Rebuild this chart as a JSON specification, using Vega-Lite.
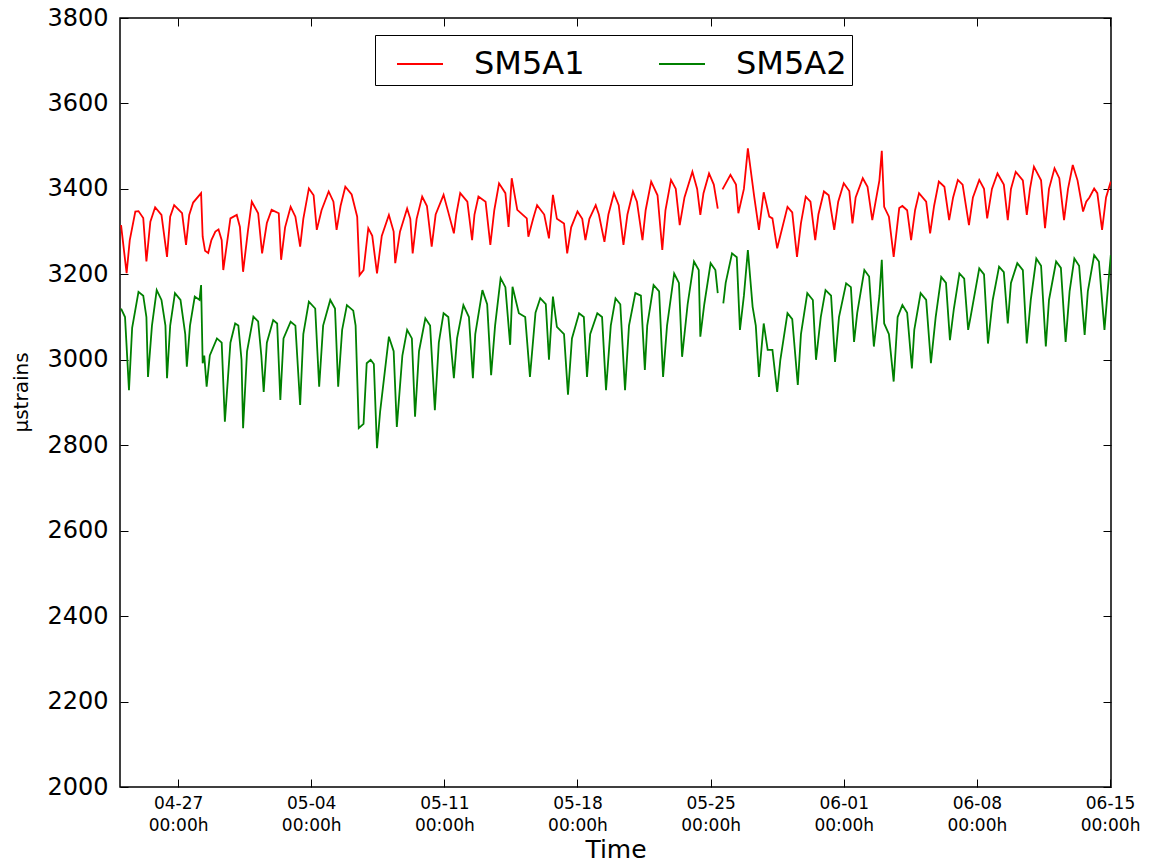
{
"$schema": "https://vega.github.io/schema/vega-lite/v6.json",
"width": 991, "height": 769,
"autosize": {"type": "none"},
"padding": {"left": 120, "top": 18, "right": 38, "bottom": 76},
"background": "white",
"config": {"view": {"stroke": "black", "strokeWidth": 1.5}, "font": "DejaVu Sans"},
"data": {"values": [
{"t":"2015-04-24T00:00","s":"SM5A1","v":3315},{"t":"2015-04-24T07:00","s":"SM5A1","v":3203},{"t":"2015-04-24T11:00","s":"SM5A1","v":3280},{"t":"2015-04-24T18:00","s":"SM5A1","v":3347},{"t":"2015-04-24T22:00","s":"SM5A1","v":3348},
{"t":"2015-04-25T04:00","s":"SM5A1","v":3332},{"t":"2015-04-25T08:00","s":"SM5A1","v":3230},{"t":"2015-04-25T13:00","s":"SM5A1","v":3323},{"t":"2015-04-25T19:00","s":"SM5A1","v":3357},
{"t":"2015-04-26T03:00","s":"SM5A1","v":3339},{"t":"2015-04-26T10:00","s":"SM5A1","v":3241},{"t":"2015-04-26T14:00","s":"SM5A1","v":3335},{"t":"2015-04-26T19:00","s":"SM5A1","v":3362},
{"t":"2015-04-27T05:00","s":"SM5A1","v":3343},{"t":"2015-04-27T10:00","s":"SM5A1","v":3269},{"t":"2015-04-27T14:00","s":"SM5A1","v":3339},{"t":"2015-04-27T19:00","s":"SM5A1","v":3368},
{"t":"2015-04-28T05:00","s":"SM5A1","v":3390},{"t":"2015-04-28T07:00","s":"SM5A1","v":3288},{"t":"2015-04-28T10:00","s":"SM5A1","v":3255},{"t":"2015-04-28T14:00","s":"SM5A1","v":3250},{"t":"2015-04-28T18:00","s":"SM5A1","v":3280},{"t":"2015-04-28T23:00","s":"SM5A1","v":3300},
{"t":"2015-04-29T03:00","s":"SM5A1","v":3305},{"t":"2015-04-29T07:00","s":"SM5A1","v":3280},{"t":"2015-04-29T09:00","s":"SM5A1","v":3210},{"t":"2015-04-29T18:00","s":"SM5A1","v":3331},
{"t":"2015-04-30T02:00","s":"SM5A1","v":3339},{"t":"2015-04-30T06:00","s":"SM5A1","v":3311},{"t":"2015-04-30T10:00","s":"SM5A1","v":3206},{"t":"2015-04-30T16:00","s":"SM5A1","v":3300},{"t":"2015-04-30T21:00","s":"SM5A1","v":3370},
{"t":"2015-05-01T05:00","s":"SM5A1","v":3343},{"t":"2015-05-01T10:00","s":"SM5A1","v":3249},{"t":"2015-05-01T16:00","s":"SM5A1","v":3320},{"t":"2015-05-01T22:00","s":"SM5A1","v":3351},
{"t":"2015-05-02T07:00","s":"SM5A1","v":3343},{"t":"2015-05-02T10:00","s":"SM5A1","v":3234},{"t":"2015-05-02T15:00","s":"SM5A1","v":3310},{"t":"2015-05-02T22:00","s":"SM5A1","v":3358},
{"t":"2015-05-03T04:00","s":"SM5A1","v":3335},{"t":"2015-05-03T10:00","s":"SM5A1","v":3265},{"t":"2015-05-03T14:00","s":"SM5A1","v":3330},{"t":"2015-05-03T21:00","s":"SM5A1","v":3401},
{"t":"2015-05-04T03:00","s":"SM5A1","v":3385},{"t":"2015-05-04T07:00","s":"SM5A1","v":3304},{"t":"2015-05-04T13:00","s":"SM5A1","v":3350},{"t":"2015-05-04T22:00","s":"SM5A1","v":3394},
{"t":"2015-05-05T04:00","s":"SM5A1","v":3370},{"t":"2015-05-05T08:00","s":"SM5A1","v":3304},{"t":"2015-05-05T13:00","s":"SM5A1","v":3360},{"t":"2015-05-05T19:00","s":"SM5A1","v":3405},
{"t":"2015-05-06T03:00","s":"SM5A1","v":3387},{"t":"2015-05-06T10:00","s":"SM5A1","v":3335},{"t":"2015-05-06T13:00","s":"SM5A1","v":3198},{"t":"2015-05-06T18:00","s":"SM5A1","v":3210},
{"t":"2015-05-07T00:00","s":"SM5A1","v":3308},{"t":"2015-05-07T05:00","s":"SM5A1","v":3290},{"t":"2015-05-07T11:00","s":"SM5A1","v":3202},{"t":"2015-05-07T17:00","s":"SM5A1","v":3290},
{"t":"2015-05-08T02:00","s":"SM5A1","v":3339},{"t":"2015-05-08T08:00","s":"SM5A1","v":3300},{"t":"2015-05-08T10:00","s":"SM5A1","v":3226},{"t":"2015-05-08T16:00","s":"SM5A1","v":3300},
{"t":"2015-05-09T01:00","s":"SM5A1","v":3354},{"t":"2015-05-09T05:00","s":"SM5A1","v":3330},{"t":"2015-05-09T08:00","s":"SM5A1","v":3249},{"t":"2015-05-09T13:00","s":"SM5A1","v":3330},{"t":"2015-05-09T20:00","s":"SM5A1","v":3382},
{"t":"2015-05-10T02:00","s":"SM5A1","v":3360},{"t":"2015-05-10T08:00","s":"SM5A1","v":3265},{"t":"2015-05-10T13:00","s":"SM5A1","v":3340},{"t":"2015-05-10T23:00","s":"SM5A1","v":3386},
{"t":"2015-05-11T05:00","s":"SM5A1","v":3345},{"t":"2015-05-11T12:00","s":"SM5A1","v":3296},{"t":"2015-05-11T15:00","s":"SM5A1","v":3340},{"t":"2015-05-11T20:00","s":"SM5A1","v":3390},
{"t":"2015-05-12T05:00","s":"SM5A1","v":3370},{"t":"2015-05-12T11:00","s":"SM5A1","v":3280},{"t":"2015-05-12T14:00","s":"SM5A1","v":3340},{"t":"2015-05-12T19:00","s":"SM5A1","v":3382},
{"t":"2015-05-13T04:00","s":"SM5A1","v":3370},{"t":"2015-05-13T10:00","s":"SM5A1","v":3269},{"t":"2015-05-13T15:00","s":"SM5A1","v":3350},{"t":"2015-05-13T21:00","s":"SM5A1","v":3413},
{"t":"2015-05-14T05:00","s":"SM5A1","v":3390},{"t":"2015-05-14T09:00","s":"SM5A1","v":3311},{"t":"2015-05-14T13:00","s":"SM5A1","v":3425},{"t":"2015-05-14T20:00","s":"SM5A1","v":3351},
{"t":"2015-05-15T08:00","s":"SM5A1","v":3331},{"t":"2015-05-15T10:00","s":"SM5A1","v":3288},{"t":"2015-05-15T16:00","s":"SM5A1","v":3330},{"t":"2015-05-15T21:00","s":"SM5A1","v":3362},
{"t":"2015-05-16T06:00","s":"SM5A1","v":3340},{"t":"2015-05-16T12:00","s":"SM5A1","v":3284},{"t":"2015-05-16T17:00","s":"SM5A1","v":3386},{"t":"2015-05-16T22:00","s":"SM5A1","v":3330},
{"t":"2015-05-17T07:00","s":"SM5A1","v":3319},{"t":"2015-05-17T11:00","s":"SM5A1","v":3249},{"t":"2015-05-17T16:00","s":"SM5A1","v":3310},
{"t":"2015-05-18T00:00","s":"SM5A1","v":3347},{"t":"2015-05-18T06:00","s":"SM5A1","v":3330},{"t":"2015-05-18T10:00","s":"SM5A1","v":3280},{"t":"2015-05-18T15:00","s":"SM5A1","v":3330},{"t":"2015-05-18T23:00","s":"SM5A1","v":3362},
{"t":"2015-05-19T03:00","s":"SM5A1","v":3340},{"t":"2015-05-19T10:00","s":"SM5A1","v":3276},{"t":"2015-05-19T15:00","s":"SM5A1","v":3340},{"t":"2015-05-19T22:00","s":"SM5A1","v":3390},
{"t":"2015-05-20T04:00","s":"SM5A1","v":3362},{"t":"2015-05-20T10:00","s":"SM5A1","v":3269},{"t":"2015-05-20T15:00","s":"SM5A1","v":3340},{"t":"2015-05-20T22:00","s":"SM5A1","v":3394},
{"t":"2015-05-21T03:00","s":"SM5A1","v":3370},{"t":"2015-05-21T10:00","s":"SM5A1","v":3280},{"t":"2015-05-21T14:00","s":"SM5A1","v":3350},{"t":"2015-05-21T21:00","s":"SM5A1","v":3417},
{"t":"2015-05-22T05:00","s":"SM5A1","v":3385},{"t":"2015-05-22T11:00","s":"SM5A1","v":3257},{"t":"2015-05-22T15:00","s":"SM5A1","v":3350},{"t":"2015-05-22T22:00","s":"SM5A1","v":3421},
{"t":"2015-05-23T04:00","s":"SM5A1","v":3400},{"t":"2015-05-23T09:00","s":"SM5A1","v":3315},{"t":"2015-05-23T15:00","s":"SM5A1","v":3380},
{"t":"2015-05-24T01:00","s":"SM5A1","v":3440},{"t":"2015-05-24T07:00","s":"SM5A1","v":3400},{"t":"2015-05-24T11:00","s":"SM5A1","v":3339},{"t":"2015-05-24T15:00","s":"SM5A1","v":3390},{"t":"2015-05-24T22:00","s":"SM5A1","v":3436},
{"t":"2015-05-25T04:00","s":"SM5A1","v":3410},{"t":"2015-05-25T09:00","s":"SM5A1","v":3354},{"t":"2015-05-25T11:00","s":"SM5A1","v":null},{"t":"2015-05-25T15:00","s":"SM5A1","v":3399},
{"t":"2015-05-26T01:00","s":"SM5A1","v":3433},{"t":"2015-05-26T08:00","s":"SM5A1","v":3410},{"t":"2015-05-26T11:00","s":"SM5A1","v":3343},{"t":"2015-05-26T18:00","s":"SM5A1","v":3400},{"t":"2015-05-26T23:00","s":"SM5A1","v":3495},
{"t":"2015-05-27T07:00","s":"SM5A1","v":3382},{"t":"2015-05-27T13:00","s":"SM5A1","v":3304},{"t":"2015-05-27T19:00","s":"SM5A1","v":3392},
{"t":"2015-05-28T02:00","s":"SM5A1","v":3335},{"t":"2015-05-28T06:00","s":"SM5A1","v":3331},{"t":"2015-05-28T12:00","s":"SM5A1","v":3261},
{"t":"2015-05-29T01:00","s":"SM5A1","v":3358},{"t":"2015-05-29T07:00","s":"SM5A1","v":3345},{"t":"2015-05-29T13:00","s":"SM5A1","v":3241},{"t":"2015-05-29T18:00","s":"SM5A1","v":3320},
{"t":"2015-05-30T00:00","s":"SM5A1","v":3382},{"t":"2015-05-30T06:00","s":"SM5A1","v":3370},{"t":"2015-05-30T12:00","s":"SM5A1","v":3280},{"t":"2015-05-30T16:00","s":"SM5A1","v":3340},{"t":"2015-05-30T23:00","s":"SM5A1","v":3394},
{"t":"2015-05-31T05:00","s":"SM5A1","v":3385},{"t":"2015-05-31T12:00","s":"SM5A1","v":3304},{"t":"2015-05-31T17:00","s":"SM5A1","v":3370},
{"t":"2015-06-01T00:00","s":"SM5A1","v":3413},{"t":"2015-06-01T07:00","s":"SM5A1","v":3395},{"t":"2015-06-01T11:00","s":"SM5A1","v":3319},{"t":"2015-06-01T15:00","s":"SM5A1","v":3380},
{"t":"2015-06-02T00:00","s":"SM5A1","v":3425},{"t":"2015-06-02T06:00","s":"SM5A1","v":3405},{"t":"2015-06-02T12:00","s":"SM5A1","v":3327},{"t":"2015-06-02T21:00","s":"SM5A1","v":3420},
{"t":"2015-06-03T00:00","s":"SM5A1","v":3489},{"t":"2015-06-03T03:00","s":"SM5A1","v":3358},{"t":"2015-06-03T09:00","s":"SM5A1","v":3335},{"t":"2015-06-03T15:00","s":"SM5A1","v":3241},{"t":"2015-06-03T22:00","s":"SM5A1","v":3355},
{"t":"2015-06-04T02:00","s":"SM5A1","v":3360},{"t":"2015-06-04T08:00","s":"SM5A1","v":3350},{"t":"2015-06-04T13:00","s":"SM5A1","v":3280},{"t":"2015-06-04T18:00","s":"SM5A1","v":3350},{"t":"2015-06-04T23:00","s":"SM5A1","v":3390},
{"t":"2015-06-05T08:00","s":"SM5A1","v":3370},{"t":"2015-06-05T13:00","s":"SM5A1","v":3296},{"t":"2015-06-05T18:00","s":"SM5A1","v":3360},
{"t":"2015-06-06T00:00","s":"SM5A1","v":3417},{"t":"2015-06-06T07:00","s":"SM5A1","v":3405},{"t":"2015-06-06T13:00","s":"SM5A1","v":3327},{"t":"2015-06-06T18:00","s":"SM5A1","v":3380},
{"t":"2015-06-07T00:00","s":"SM5A1","v":3421},{"t":"2015-06-07T06:00","s":"SM5A1","v":3410},{"t":"2015-06-07T14:00","s":"SM5A1","v":3315},{"t":"2015-06-07T19:00","s":"SM5A1","v":3380},
{"t":"2015-06-08T03:00","s":"SM5A1","v":3421},{"t":"2015-06-08T09:00","s":"SM5A1","v":3400},{"t":"2015-06-08T13:00","s":"SM5A1","v":3331},{"t":"2015-06-08T19:00","s":"SM5A1","v":3400},
{"t":"2015-06-09T02:00","s":"SM5A1","v":3436},{"t":"2015-06-09T10:00","s":"SM5A1","v":3410},{"t":"2015-06-09T15:00","s":"SM5A1","v":3327},{"t":"2015-06-09T19:00","s":"SM5A1","v":3400},
{"t":"2015-06-10T01:00","s":"SM5A1","v":3440},{"t":"2015-06-10T10:00","s":"SM5A1","v":3420},{"t":"2015-06-10T15:00","s":"SM5A1","v":3339},{"t":"2015-06-10T19:00","s":"SM5A1","v":3400},
{"t":"2015-06-11T00:00","s":"SM5A1","v":3452},{"t":"2015-06-11T09:00","s":"SM5A1","v":3420},{"t":"2015-06-11T14:00","s":"SM5A1","v":3308},{"t":"2015-06-11T19:00","s":"SM5A1","v":3400},
{"t":"2015-06-12T02:00","s":"SM5A1","v":3448},{"t":"2015-06-12T08:00","s":"SM5A1","v":3425},{"t":"2015-06-12T14:00","s":"SM5A1","v":3327},{"t":"2015-06-12T19:00","s":"SM5A1","v":3400},
{"t":"2015-06-13T01:00","s":"SM5A1","v":3456},{"t":"2015-06-13T07:00","s":"SM5A1","v":3420},{"t":"2015-06-13T14:00","s":"SM5A1","v":3347},{"t":"2015-06-13T18:00","s":"SM5A1","v":3370},{"t":"2015-06-13T22:00","s":"SM5A1","v":3380},
{"t":"2015-06-14T04:00","s":"SM5A1","v":3401},{"t":"2015-06-14T08:00","s":"SM5A1","v":3390},{"t":"2015-06-14T14:00","s":"SM5A1","v":3304},{"t":"2015-06-14T19:00","s":"SM5A1","v":3380},
{"t":"2015-06-15T01:00","s":"SM5A1","v":3417},
{"t":"2015-04-24T00:00","s":"SM5A2","v":3120},{"t":"2015-04-24T05:00","s":"SM5A2","v":3100},{"t":"2015-04-24T10:00","s":"SM5A2","v":2929},{"t":"2015-04-24T14:00","s":"SM5A2","v":3075},{"t":"2015-04-24T22:00","s":"SM5A2","v":3159},
{"t":"2015-04-25T04:00","s":"SM5A2","v":3150},{"t":"2015-04-25T08:00","s":"SM5A2","v":3100},{"t":"2015-04-25T10:00","s":"SM5A2","v":2960},{"t":"2015-04-25T15:00","s":"SM5A2","v":3080},{"t":"2015-04-25T21:00","s":"SM5A2","v":3163},
{"t":"2015-04-26T03:00","s":"SM5A2","v":3140},{"t":"2015-04-26T08:00","s":"SM5A2","v":3080},{"t":"2015-04-26T10:00","s":"SM5A2","v":2957},{"t":"2015-04-26T14:00","s":"SM5A2","v":3080},{"t":"2015-04-26T20:00","s":"SM5A2","v":3156},
{"t":"2015-04-27T03:00","s":"SM5A2","v":3140},{"t":"2015-04-27T09:00","s":"SM5A2","v":3060},{"t":"2015-04-27T11:00","s":"SM5A2","v":2984},{"t":"2015-04-27T15:00","s":"SM5A2","v":3080},{"t":"2015-04-27T21:00","s":"SM5A2","v":3148},
{"t":"2015-04-28T03:00","s":"SM5A2","v":3140},{"t":"2015-04-28T05:00","s":"SM5A2","v":3175},{"t":"2015-04-28T07:00","s":"SM5A2","v":2992},{"t":"2015-04-28T09:00","s":"SM5A2","v":3010},{"t":"2015-04-28T12:00","s":"SM5A2","v":2937},{"t":"2015-04-28T16:00","s":"SM5A2","v":3010},
{"t":"2015-04-29T01:00","s":"SM5A2","v":3050},{"t":"2015-04-29T07:00","s":"SM5A2","v":3040},{"t":"2015-04-29T11:00","s":"SM5A2","v":2855},{"t":"2015-04-29T18:00","s":"SM5A2","v":3040},
{"t":"2015-04-30T00:00","s":"SM5A2","v":3085},{"t":"2015-04-30T04:00","s":"SM5A2","v":3080},{"t":"2015-04-30T08:00","s":"SM5A2","v":3000},{"t":"2015-04-30T10:00","s":"SM5A2","v":2840},{"t":"2015-04-30T15:00","s":"SM5A2","v":3020},{"t":"2015-04-30T23:00","s":"SM5A2","v":3101},
{"t":"2015-05-01T05:00","s":"SM5A2","v":3090},{"t":"2015-05-01T09:00","s":"SM5A2","v":3010},{"t":"2015-05-01T12:00","s":"SM5A2","v":2925},{"t":"2015-05-01T16:00","s":"SM5A2","v":3040},
{"t":"2015-05-02T00:00","s":"SM5A2","v":3093},{"t":"2015-05-02T05:00","s":"SM5A2","v":3085},{"t":"2015-05-02T09:00","s":"SM5A2","v":2906},{"t":"2015-05-02T13:00","s":"SM5A2","v":3050},{"t":"2015-05-02T22:00","s":"SM5A2","v":3089},
{"t":"2015-05-03T04:00","s":"SM5A2","v":3080},{"t":"2015-05-03T10:00","s":"SM5A2","v":2894},{"t":"2015-05-03T14:00","s":"SM5A2","v":3060},{"t":"2015-05-03T21:00","s":"SM5A2","v":3136},
{"t":"2015-05-04T05:00","s":"SM5A2","v":3120},{"t":"2015-05-04T10:00","s":"SM5A2","v":2937},{"t":"2015-05-04T15:00","s":"SM5A2","v":3080},
{"t":"2015-05-05T00:00","s":"SM5A2","v":3140},{"t":"2015-05-05T06:00","s":"SM5A2","v":3120},{"t":"2015-05-05T10:00","s":"SM5A2","v":2937},{"t":"2015-05-05T15:00","s":"SM5A2","v":3070},{"t":"2015-05-05T21:00","s":"SM5A2","v":3128},
{"t":"2015-05-06T05:00","s":"SM5A2","v":3115},{"t":"2015-05-06T08:00","s":"SM5A2","v":3080},{"t":"2015-05-06T12:00","s":"SM5A2","v":2840},{"t":"2015-05-06T18:00","s":"SM5A2","v":2850},{"t":"2015-05-06T22:00","s":"SM5A2","v":2992},
{"t":"2015-05-07T03:00","s":"SM5A2","v":3000},{"t":"2015-05-07T07:00","s":"SM5A2","v":2990},{"t":"2015-05-07T11:00","s":"SM5A2","v":2793},{"t":"2015-05-07T15:00","s":"SM5A2","v":2880},
{"t":"2015-05-08T02:00","s":"SM5A2","v":3054},{"t":"2015-05-08T08:00","s":"SM5A2","v":3020},{"t":"2015-05-08T12:00","s":"SM5A2","v":2843},{"t":"2015-05-08T19:00","s":"SM5A2","v":3010},
{"t":"2015-05-09T01:00","s":"SM5A2","v":3070},{"t":"2015-05-09T07:00","s":"SM5A2","v":3050},{"t":"2015-05-09T11:00","s":"SM5A2","v":2867},{"t":"2015-05-09T16:00","s":"SM5A2","v":3020},
{"t":"2015-05-10T00:00","s":"SM5A2","v":3097},{"t":"2015-05-10T06:00","s":"SM5A2","v":3080},{"t":"2015-05-10T12:00","s":"SM5A2","v":2882},{"t":"2015-05-10T17:00","s":"SM5A2","v":3040},{"t":"2015-05-10T23:00","s":"SM5A2","v":3109},
{"t":"2015-05-11T05:00","s":"SM5A2","v":3100},{"t":"2015-05-11T12:00","s":"SM5A2","v":2957},{"t":"2015-05-11T16:00","s":"SM5A2","v":3050},
{"t":"2015-05-12T00:00","s":"SM5A2","v":3128},{"t":"2015-05-12T07:00","s":"SM5A2","v":3100},{"t":"2015-05-12T12:00","s":"SM5A2","v":2957},{"t":"2015-05-12T15:00","s":"SM5A2","v":3060},
{"t":"2015-05-13T00:00","s":"SM5A2","v":3163},{"t":"2015-05-13T06:00","s":"SM5A2","v":3130},{"t":"2015-05-13T11:00","s":"SM5A2","v":2964},{"t":"2015-05-13T16:00","s":"SM5A2","v":3080},{"t":"2015-05-13T23:00","s":"SM5A2","v":3191},
{"t":"2015-05-14T05:00","s":"SM5A2","v":3170},{"t":"2015-05-14T11:00","s":"SM5A2","v":3035},{"t":"2015-05-14T14:00","s":"SM5A2","v":3171},{"t":"2015-05-14T22:00","s":"SM5A2","v":3109},
{"t":"2015-05-15T06:00","s":"SM5A2","v":3100},{"t":"2015-05-15T12:00","s":"SM5A2","v":2960},{"t":"2015-05-15T19:00","s":"SM5A2","v":3110},
{"t":"2015-05-16T01:00","s":"SM5A2","v":3144},{"t":"2015-05-16T08:00","s":"SM5A2","v":3130},{"t":"2015-05-16T12:00","s":"SM5A2","v":3000},{"t":"2015-05-16T17:00","s":"SM5A2","v":3148},{"t":"2015-05-16T22:00","s":"SM5A2","v":3077},
{"t":"2015-05-17T07:00","s":"SM5A2","v":3060},{"t":"2015-05-17T12:00","s":"SM5A2","v":2918},{"t":"2015-05-17T17:00","s":"SM5A2","v":3050},
{"t":"2015-05-18T02:00","s":"SM5A2","v":3109},{"t":"2015-05-18T08:00","s":"SM5A2","v":3100},{"t":"2015-05-18T12:00","s":"SM5A2","v":2960},{"t":"2015-05-18T16:00","s":"SM5A2","v":3060},
{"t":"2015-05-19T01:00","s":"SM5A2","v":3109},{"t":"2015-05-19T07:00","s":"SM5A2","v":3100},{"t":"2015-05-19T12:00","s":"SM5A2","v":2929},{"t":"2015-05-19T18:00","s":"SM5A2","v":3080},
{"t":"2015-05-20T00:00","s":"SM5A2","v":3144},{"t":"2015-05-20T06:00","s":"SM5A2","v":3130},{"t":"2015-05-20T12:00","s":"SM5A2","v":2929},{"t":"2015-05-20T17:00","s":"SM5A2","v":3080},
{"t":"2015-05-21T01:00","s":"SM5A2","v":3156},{"t":"2015-05-21T08:00","s":"SM5A2","v":3150},{"t":"2015-05-21T13:00","s":"SM5A2","v":2976},{"t":"2015-05-21T16:00","s":"SM5A2","v":3080},
{"t":"2015-05-22T00:00","s":"SM5A2","v":3175},{"t":"2015-05-22T07:00","s":"SM5A2","v":3160},{"t":"2015-05-22T12:00","s":"SM5A2","v":2960},{"t":"2015-05-22T17:00","s":"SM5A2","v":3080},
{"t":"2015-05-23T02:00","s":"SM5A2","v":3202},{"t":"2015-05-23T08:00","s":"SM5A2","v":3180},{"t":"2015-05-23T12:00","s":"SM5A2","v":3007},{"t":"2015-05-23T19:00","s":"SM5A2","v":3130},
{"t":"2015-05-24T03:00","s":"SM5A2","v":3230},{"t":"2015-05-24T09:00","s":"SM5A2","v":3210},{"t":"2015-05-24T11:00","s":"SM5A2","v":3054},{"t":"2015-05-24T16:00","s":"SM5A2","v":3130},
{"t":"2015-05-25T00:00","s":"SM5A2","v":3226},{"t":"2015-05-25T06:00","s":"SM5A2","v":3210},{"t":"2015-05-25T09:00","s":"SM5A2","v":3156},{"t":"2015-05-25T12:00","s":"SM5A2","v":null},{"t":"2015-05-25T16:00","s":"SM5A2","v":3132},{"t":"2015-05-25T19:00","s":"SM5A2","v":3180},
{"t":"2015-05-26T03:00","s":"SM5A2","v":3249},{"t":"2015-05-26T09:00","s":"SM5A2","v":3240},{"t":"2015-05-26T13:00","s":"SM5A2","v":3070},{"t":"2015-05-26T18:00","s":"SM5A2","v":3150},{"t":"2015-05-26T23:00","s":"SM5A2","v":3257},
{"t":"2015-05-27T05:00","s":"SM5A2","v":3124},{"t":"2015-05-27T09:00","s":"SM5A2","v":3080},{"t":"2015-05-27T13:00","s":"SM5A2","v":2960},{"t":"2015-05-27T19:00","s":"SM5A2","v":3085},
{"t":"2015-05-28T00:00","s":"SM5A2","v":3023},{"t":"2015-05-28T06:00","s":"SM5A2","v":3023},{"t":"2015-05-28T12:00","s":"SM5A2","v":2925},{"t":"2015-05-28T16:00","s":"SM5A2","v":3000},
{"t":"2015-05-29T01:00","s":"SM5A2","v":3109},{"t":"2015-05-29T07:00","s":"SM5A2","v":3095},{"t":"2015-05-29T14:00","s":"SM5A2","v":2941},{"t":"2015-05-29T18:00","s":"SM5A2","v":3060},
{"t":"2015-05-30T02:00","s":"SM5A2","v":3156},{"t":"2015-05-30T09:00","s":"SM5A2","v":3140},{"t":"2015-05-30T13:00","s":"SM5A2","v":3000},{"t":"2015-05-30T19:00","s":"SM5A2","v":3100},
{"t":"2015-05-31T01:00","s":"SM5A2","v":3163},{"t":"2015-05-31T08:00","s":"SM5A2","v":3150},{"t":"2015-05-31T13:00","s":"SM5A2","v":2995},{"t":"2015-05-31T18:00","s":"SM5A2","v":3100},
{"t":"2015-06-01T03:00","s":"SM5A2","v":3179},{"t":"2015-06-01T09:00","s":"SM5A2","v":3170},{"t":"2015-06-01T13:00","s":"SM5A2","v":3042},{"t":"2015-06-01T17:00","s":"SM5A2","v":3110},
{"t":"2015-06-02T02:00","s":"SM5A2","v":3210},{"t":"2015-06-02T08:00","s":"SM5A2","v":3195},{"t":"2015-06-02T14:00","s":"SM5A2","v":3031},{"t":"2015-06-02T21:00","s":"SM5A2","v":3150},
{"t":"2015-06-03T00:00","s":"SM5A2","v":3234},{"t":"2015-06-03T03:00","s":"SM5A2","v":3085},{"t":"2015-06-03T09:00","s":"SM5A2","v":3060},{"t":"2015-06-03T15:00","s":"SM5A2","v":2949},{"t":"2015-06-03T20:00","s":"SM5A2","v":3100},
{"t":"2015-06-04T02:00","s":"SM5A2","v":3128},{"t":"2015-06-04T08:00","s":"SM5A2","v":3110},{"t":"2015-06-04T14:00","s":"SM5A2","v":2980},{"t":"2015-06-04T17:00","s":"SM5A2","v":3070},
{"t":"2015-06-05T01:00","s":"SM5A2","v":3156},{"t":"2015-06-05T08:00","s":"SM5A2","v":3140},{"t":"2015-06-05T14:00","s":"SM5A2","v":2992},{"t":"2015-06-05T20:00","s":"SM5A2","v":3100},
{"t":"2015-06-06T03:00","s":"SM5A2","v":3194},{"t":"2015-06-06T09:00","s":"SM5A2","v":3180},{"t":"2015-06-06T14:00","s":"SM5A2","v":3046},{"t":"2015-06-06T19:00","s":"SM5A2","v":3120},
{"t":"2015-06-07T02:00","s":"SM5A2","v":3202},{"t":"2015-06-07T08:00","s":"SM5A2","v":3190},{"t":"2015-06-07T13:00","s":"SM5A2","v":3070},{"t":"2015-06-07T16:00","s":"SM5A2","v":3100},
{"t":"2015-06-08T03:00","s":"SM5A2","v":3214},{"t":"2015-06-08T09:00","s":"SM5A2","v":3200},{"t":"2015-06-08T14:00","s":"SM5A2","v":3038},{"t":"2015-06-08T20:00","s":"SM5A2","v":3140},
{"t":"2015-06-09T04:00","s":"SM5A2","v":3218},{"t":"2015-06-09T10:00","s":"SM5A2","v":3205},{"t":"2015-06-09T15:00","s":"SM5A2","v":3085},{"t":"2015-06-09T19:00","s":"SM5A2","v":3180},
{"t":"2015-06-10T03:00","s":"SM5A2","v":3226},{"t":"2015-06-10T10:00","s":"SM5A2","v":3210},{"t":"2015-06-10T15:00","s":"SM5A2","v":3038},{"t":"2015-06-10T20:00","s":"SM5A2","v":3140},
{"t":"2015-06-11T03:00","s":"SM5A2","v":3237},{"t":"2015-06-11T09:00","s":"SM5A2","v":3220},{"t":"2015-06-11T15:00","s":"SM5A2","v":3031},{"t":"2015-06-11T19:00","s":"SM5A2","v":3140},
{"t":"2015-06-12T04:00","s":"SM5A2","v":3230},{"t":"2015-06-12T10:00","s":"SM5A2","v":3215},{"t":"2015-06-12T16:00","s":"SM5A2","v":3042},{"t":"2015-06-12T21:00","s":"SM5A2","v":3160},
{"t":"2015-06-13T03:00","s":"SM5A2","v":3237},{"t":"2015-06-13T09:00","s":"SM5A2","v":3220},{"t":"2015-06-13T16:00","s":"SM5A2","v":3058},{"t":"2015-06-13T20:00","s":"SM5A2","v":3160},
{"t":"2015-06-14T04:00","s":"SM5A2","v":3245},{"t":"2015-06-14T10:00","s":"SM5A2","v":3230},{"t":"2015-06-14T17:00","s":"SM5A2","v":3070},{"t":"2015-06-14T21:00","s":"SM5A2","v":3160},
{"t":"2015-06-15T01:00","s":"SM5A2","v":3245}
]},
"resolve": {"axis": {"x": "independent", "y": "independent"}},
"layer": [
{
"mark": {"type": "line", "strokeWidth": 1.8, "clip": true, "invalid": "break-paths-filter-domains"},
"encoding": {
"x": {"field": "t", "type": "temporal",
 "scale": {"domain": [{"year": 2015, "month": 4, "date": 23, "hours": 22, "minutes": 40}, {"year": 2015, "month": 6, "date": 15, "hours": 1, "minutes": 15}], "nice": false},
 "axis": {"title": "Time", "grid": false, "domain": false,
  "values": [{"year":2015,"month":4,"date":27},{"year":2015,"month":5,"date":4},{"year":2015,"month":5,"date":11},{"year":2015,"month":5,"date":18},{"year":2015,"month":5,"date":25},{"year":2015,"month":6,"date":1},{"year":2015,"month":6,"date":8},{"year":2015,"month":6,"date":15}],
  "labelExpr": "[timeFormat(datum.value, '%m-%d'), timeFormat(datum.value, '%H:%M') + 'h']",
  "labelFont": "DejaVu Sans", "labelFontSize": 17, "labelColor": "black", "labelLineHeight": 22,
  "labelBaseline": "top", "labelPadding": 16, "labelFlush": false, "labelOverlap": false,
  "tickSize": -8, "tickColor": "black", "tickWidth": 1,
  "titleFont": "DejaVu Sans", "titleFontSize": 25, "titleFontWeight": "normal", "titleColor": "black",
  "titleBaseline": "middle", "titleY": 62}},
"y": {"field": "v", "type": "quantitative",
 "scale": {"domain": [2000, 3800], "nice": false, "zero": false},
 "axis": {"title": "µstrains", "grid": false, "domain": false, "format": "d",
  "values": [2000, 2200, 2400, 2600, 2800, 3000, 3200, 3400, 3600, 3800],
  "labelFont": "DejaVu Sans", "labelFontSize": 24, "labelColor": "black", "labelPadding": 20, "labelFlush": false, "labelOverlap": false,
  "tickSize": -8, "tickColor": "black", "tickWidth": 1,
  "titleFont": "DejaVu Sans", "titleFontSize": 20, "titleFontWeight": "normal", "titleColor": "black",
  "titleAngle": -90, "titleAlign": "center", "titleBaseline": "middle", "titleX": -99, "titleY": 374}},
"color": {"field": "s", "type": "nominal",
 "scale": {"domain": ["SM5A1", "SM5A2"], "range": ["#ff0000", "#008000"]},
 "legend": {"orient": "none", "legendX": 255, "legendY": 17, "direction": "horizontal", "title": null,
  "symbolType": "stroke", "symbolSize": 2116, "symbolStrokeWidth": 2, "symbolOffset": 16,
  "labelFont": "DejaVu Sans", "labelFontSize": 32, "labelColor": "black", "labelOffset": 30, "labelLimit": 400,
  "columnPadding": 57, "padding": 5, "strokeColor": "black", "fillColor": "white", "cornerRadius": 0}}
}
},
{
"mark": {"type": "point", "opacity": 0},
"encoding": {
"x": {"field": "t", "type": "temporal",
 "axis": {"orient": "top", "title": null, "labels": false, "grid": false, "domain": false,
  "values": [{"year":2015,"month":4,"date":27},{"year":2015,"month":5,"date":4},{"year":2015,"month":5,"date":11},{"year":2015,"month":5,"date":18},{"year":2015,"month":5,"date":25},{"year":2015,"month":6,"date":1},{"year":2015,"month":6,"date":8},{"year":2015,"month":6,"date":15}],
  "tickSize": -8, "tickColor": "black", "tickWidth": 1}},
"y": {"field": "v", "type": "quantitative",
 "axis": {"orient": "right", "title": null, "labels": false, "grid": false, "domain": false,
  "values": [2000, 2200, 2400, 2600, 2800, 3000, 3200, 3400, 3600, 3800],
  "tickSize": -8, "tickColor": "black", "tickWidth": 1}}
}
}
]
}
